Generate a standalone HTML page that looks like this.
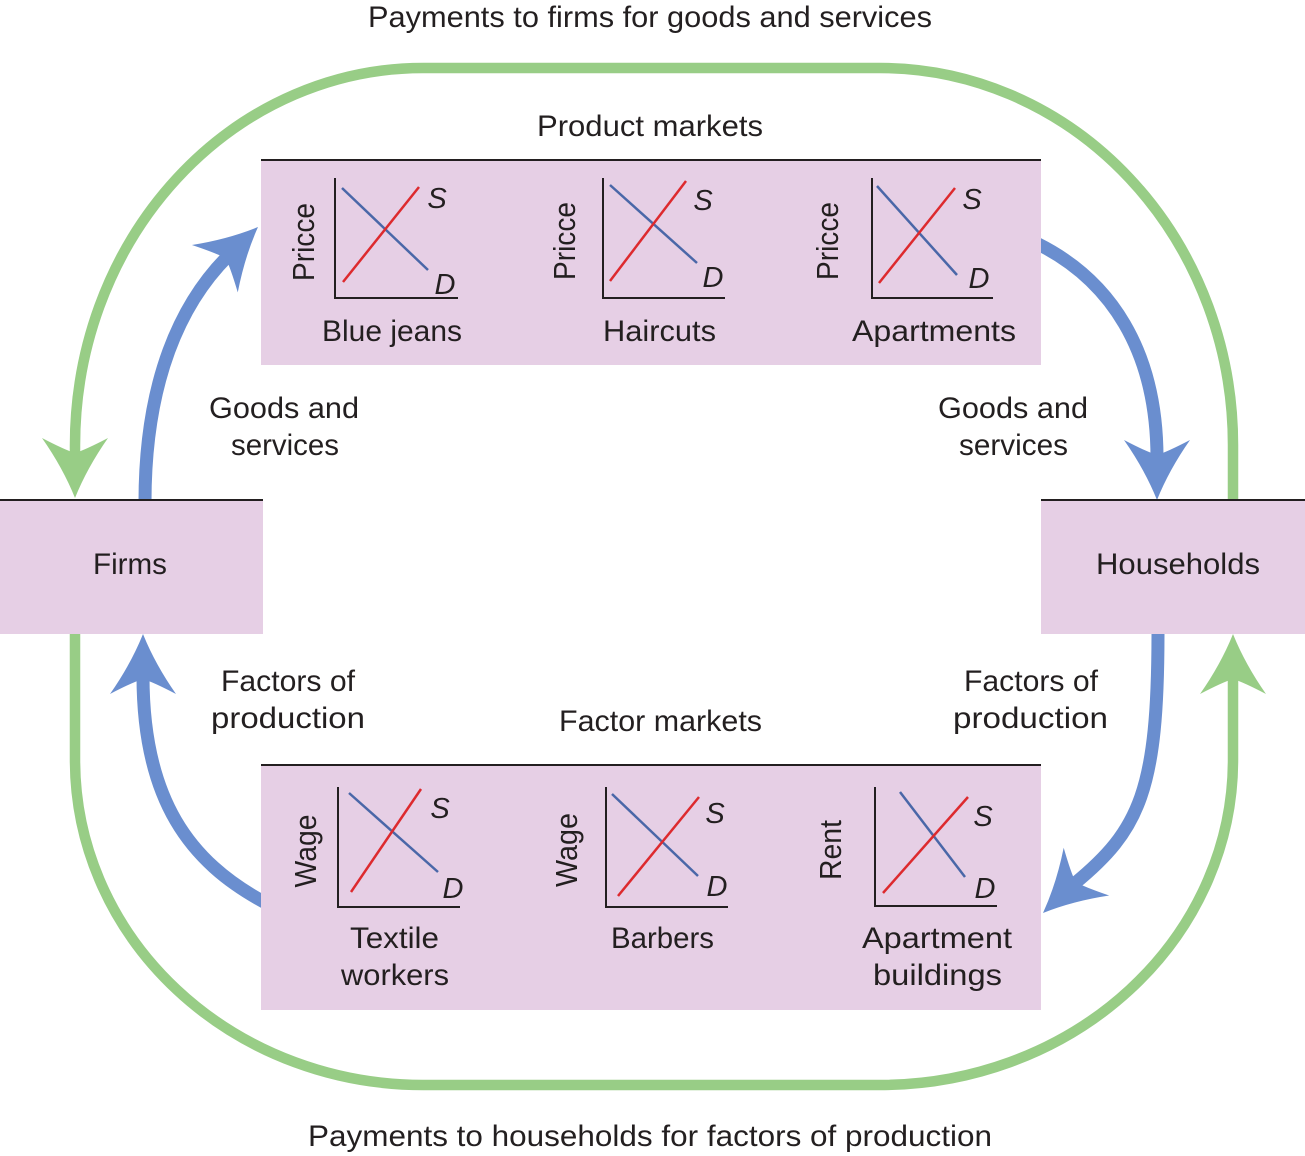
<!DOCTYPE html>
<html>
<head>
<meta charset="utf-8">
<style>
  html, body { margin: 0; padding: 0; background: #ffffff; }
  svg { display: block; }
  text { font-family: "Liberation Sans", Arial, sans-serif; fill: #231f20; }
  .lbl { font-size: 30px; }
  .rot { font-size: 31px; }
  .sd { font-size: 29px; font-style: italic; }
</style>
</head>
<body>
<svg width="1305" height="1156" viewBox="0 0 1305 1156" xmlns="http://www.w3.org/2000/svg">
  <rect x="0" y="0" width="1305" height="1156" fill="#ffffff"/>
  <defs>
    <path id="ah" d="M0,0 Q-30,-12 -60,-33 Q-48,-10 -45,0 Q-48,10 -60,33 Q-30,12 0,0 Z"/>
  </defs>

  <!-- Green loops -->
  <path d="M1233,500 L1233,445 A353,377 0 0 0 880,68 L423,68 A348,377 0 0 0 75,445 L75,462"
        fill="none" stroke="#98cd86" stroke-width="10.5"/>
  <path d="M75,634 L75,760 A348,325 0 0 0 423,1085 L880,1085 A353,325 0 0 0 1233,760 L1233,672"
        fill="none" stroke="#98cd86" stroke-width="10.5"/>
  <use href="#ah" fill="#98cd86" transform="translate(75,498) rotate(90)"/>
  <use href="#ah" fill="#98cd86" transform="translate(1233,634) rotate(-90)"/>

  <!-- Blue arrows -->
  <path d="M145,502 C145,380 181,303 228,256" fill="none" stroke="#6a8ecf" stroke-width="13"/>
  <use href="#ah" fill="#6a8ecf" transform="translate(258,227) rotate(-44)"/>

  <path d="M1038,244 C1110,280 1157,350 1157,458" fill="none" stroke="#6a8ecf" stroke-width="13"/>
  <use href="#ah" fill="#6a8ecf" transform="translate(1157,500) rotate(90)"/>

  <path d="M264,902 C190,862 143,800 143,676" fill="none" stroke="#6a8ecf" stroke-width="13"/>
  <use href="#ah" fill="#6a8ecf" transform="translate(143,634) rotate(-90)"/>

  <path d="M1158,632 C1158,790 1140,830 1074,884" fill="none" stroke="#6a8ecf" stroke-width="13"/>
  <use href="#ah" fill="#6a8ecf" transform="translate(1043,913) rotate(136.4)"/>

  <!-- Boxes -->
  <rect x="261" y="160" width="780" height="205" fill="#e6cfe5"/>
  <line x1="261" y1="160" x2="1041" y2="160" stroke="#231f20" stroke-width="2"/>

  <rect x="261" y="765" width="780" height="245" fill="#e6cfe5"/>
  <line x1="261" y1="765" x2="1041" y2="765" stroke="#231f20" stroke-width="2"/>

  <rect x="0" y="500" width="263" height="134" fill="#e6cfe5"/>
  <line x1="0" y1="500" x2="263" y2="500" stroke="#231f20" stroke-width="2"/>

  <rect x="1041" y="500" width="264" height="134" fill="#e6cfe5"/>
  <line x1="1041" y1="500" x2="1305" y2="500" stroke="#231f20" stroke-width="2"/>

  <!-- Product charts -->
  <g stroke-width="2.5" fill="none">
    <polyline points="335,178 335,298 458,298" stroke="#231f20" stroke-width="2"/>
    <line x1="342" y1="188" x2="428" y2="270" stroke="#4a67a8"/>
    <line x1="343" y1="282" x2="419" y2="187" stroke="#dd2a2e"/>

    <polyline points="603,178 603,298 725,298" stroke="#231f20" stroke-width="2"/>
    <line x1="610" y1="185" x2="697" y2="263" stroke="#4a67a8"/>
    <line x1="610" y1="281" x2="686" y2="181" stroke="#dd2a2e"/>

    <polyline points="872,178 872,298 993,298" stroke="#231f20" stroke-width="2"/>
    <line x1="877" y1="186" x2="957" y2="275" stroke="#4a67a8"/>
    <line x1="879" y1="283" x2="955" y2="188" stroke="#dd2a2e"/>
  </g>
  <text class="sd" x="437" y="208" text-anchor="middle">S</text>
  <text class="sd" x="445" y="294" text-anchor="middle">D</text>
  <text class="sd" x="703" y="210" text-anchor="middle">S</text>
  <text class="sd" x="713" y="287" text-anchor="middle">D</text>
  <text class="sd" x="972" y="209" text-anchor="middle">S</text>
  <text class="sd" x="979" y="288" text-anchor="middle">D</text>

  <text class="rot" transform="translate(314,242) rotate(-90)" text-anchor="middle" textLength="78" lengthAdjust="spacingAndGlyphs">Pricce</text>
  <text class="rot" transform="translate(575,241) rotate(-90)" text-anchor="middle" textLength="78" lengthAdjust="spacingAndGlyphs">Pricce</text>
  <text class="rot" transform="translate(838,241) rotate(-90)" text-anchor="middle" textLength="78" lengthAdjust="spacingAndGlyphs">Pricce</text>

  <!-- Factor charts -->
  <g stroke-width="2.5" fill="none">
    <polyline points="338,787 338,907 460,907" stroke="#231f20" stroke-width="2"/>
    <line x1="349" y1="793" x2="438" y2="872" stroke="#4a67a8"/>
    <line x1="351" y1="892" x2="421" y2="789" stroke="#dd2a2e"/>

    <polyline points="606,787 606,907 728,907" stroke="#231f20" stroke-width="2"/>
    <line x1="612" y1="794" x2="698" y2="876" stroke="#4a67a8"/>
    <line x1="618" y1="896" x2="699" y2="797" stroke="#dd2a2e"/>

    <polyline points="875,787 875,906 997,906" stroke="#231f20" stroke-width="2"/>
    <line x1="900" y1="792" x2="965" y2="877" stroke="#4a67a8"/>
    <line x1="883" y1="893" x2="968" y2="797" stroke="#dd2a2e"/>
  </g>
  <text class="sd" x="440" y="818" text-anchor="middle">S</text>
  <text class="sd" x="453" y="898" text-anchor="middle">D</text>
  <text class="sd" x="715" y="823" text-anchor="middle">S</text>
  <text class="sd" x="717" y="896" text-anchor="middle">D</text>
  <text class="sd" x="983" y="826" text-anchor="middle">S</text>
  <text class="sd" x="985" y="898" text-anchor="middle">D</text>

  <text class="rot" transform="translate(316,851) rotate(-90)" text-anchor="middle" textLength="73" lengthAdjust="spacingAndGlyphs">Wage</text>
  <text class="rot" transform="translate(577,850) rotate(-90)" text-anchor="middle" textLength="74" lengthAdjust="spacingAndGlyphs">Wage</text>
  <text class="rot" transform="translate(841,850) rotate(-90)" text-anchor="middle" textLength="60" lengthAdjust="spacingAndGlyphs">Rent</text>

  <!-- Labels -->
  <text class="lbl" x="368" y="27" textLength="564" lengthAdjust="spacingAndGlyphs">Payments to firms for goods and services</text>
  <text class="lbl" x="308" y="1146" textLength="684" lengthAdjust="spacingAndGlyphs">Payments to households for factors of production</text>
  <text class="lbl" x="537" y="136" textLength="226" lengthAdjust="spacingAndGlyphs">Product markets</text>
  <text class="lbl" x="559" y="731" textLength="203" lengthAdjust="spacingAndGlyphs">Factor markets</text>

  <text class="lbl" x="209" y="418" textLength="150" lengthAdjust="spacingAndGlyphs">Goods and</text>
  <text class="lbl" x="231" y="455" textLength="108" lengthAdjust="spacingAndGlyphs">services</text>
  <text class="lbl" x="938" y="418" textLength="150" lengthAdjust="spacingAndGlyphs">Goods and</text>
  <text class="lbl" x="959" y="455" textLength="109" lengthAdjust="spacingAndGlyphs">services</text>

  <text class="lbl" x="221" y="691" textLength="134" lengthAdjust="spacingAndGlyphs">Factors of</text>
  <text class="lbl" x="211" y="728" textLength="154" lengthAdjust="spacingAndGlyphs">production</text>
  <text class="lbl" x="964" y="691" textLength="134" lengthAdjust="spacingAndGlyphs">Factors of</text>
  <text class="lbl" x="953" y="728" textLength="155" lengthAdjust="spacingAndGlyphs">production</text>

  <text class="lbl" x="93" y="574" textLength="74" lengthAdjust="spacingAndGlyphs">Firms</text>
  <text class="lbl" x="1096" y="574" textLength="164" lengthAdjust="spacingAndGlyphs">Households</text>

  <text class="lbl" x="322" y="341" textLength="140" lengthAdjust="spacingAndGlyphs">Blue jeans</text>
  <text class="lbl" x="603" y="341" textLength="113" lengthAdjust="spacingAndGlyphs">Haircuts</text>
  <text class="lbl" x="852" y="341" textLength="164" lengthAdjust="spacingAndGlyphs">Apartments</text>

  <text class="lbl" x="350" y="948" textLength="89" lengthAdjust="spacingAndGlyphs">Textile</text>
  <text class="lbl" x="341" y="985" textLength="108" lengthAdjust="spacingAndGlyphs">workers</text>
  <text class="lbl" x="611" y="948" textLength="103" lengthAdjust="spacingAndGlyphs">Barbers</text>
  <text class="lbl" x="862" y="948" textLength="150" lengthAdjust="spacingAndGlyphs">Apartment</text>
  <text class="lbl" x="873" y="985" textLength="129" lengthAdjust="spacingAndGlyphs">buildings</text>
</svg>
</body>
</html>
